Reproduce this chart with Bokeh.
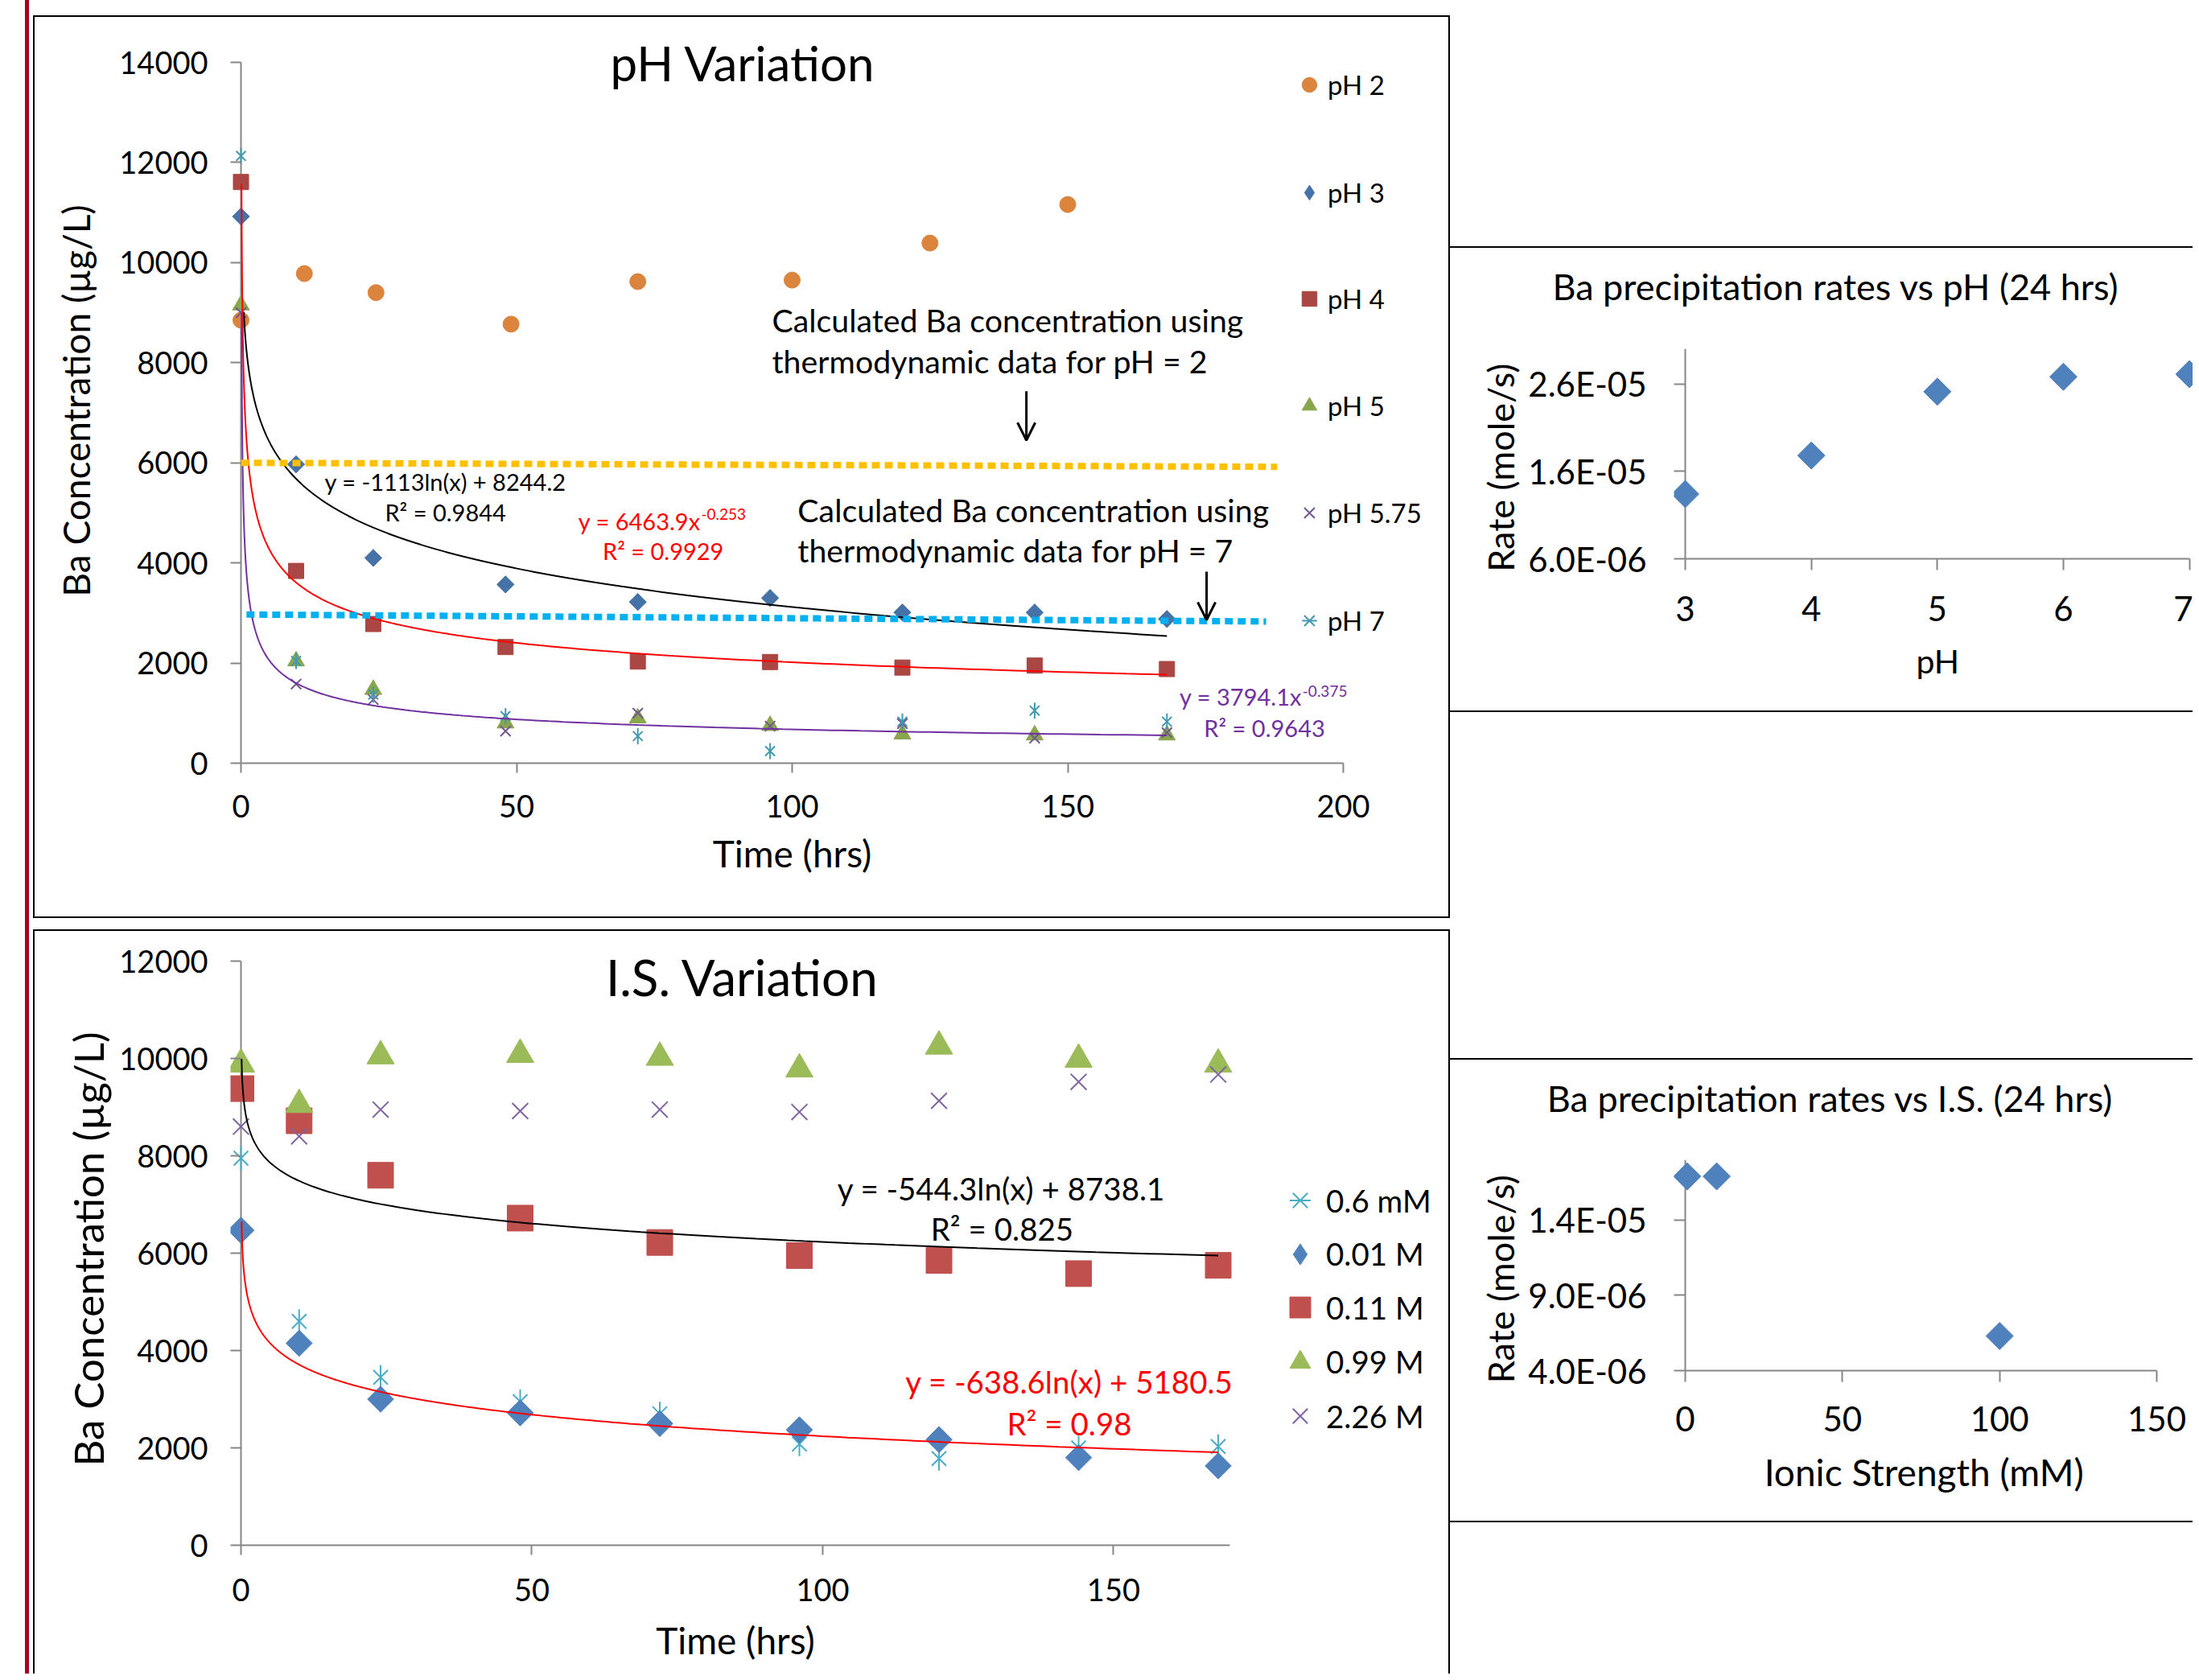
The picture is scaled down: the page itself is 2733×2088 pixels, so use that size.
import numpy as np
from bokeh.plotting import figure
from bokeh.layouts import row, column
from bokeh.models import (Spacer, Div, Label, Legend, LegendItem, Arrow, OpenHead, FixedTicker,
                          CustomJSTickFormatter, Range1d)
from bokeh.embed import file_html
from bokeh.resources import INLINE

FONT = "Lato"
AXIS_GRAY = "#868686"
NB = "\u00a0"

# ---------------- data: pH variation ----------------
time_ph2 = [0, 11.5, 24.5, 49, 72, 100, 125, 150]
ba_ph2 = [8850, 9780, 9400, 8770, 9620, 9650, 10390, 11160]
time_ph = [0, 10, 24, 48, 72, 96, 120, 144, 168]
ba_ph3 = [10920, 5970, 4100, 3570, 3220, 3300, 3010, 3010, 2880]
ba_ph4 = [11610, 3840, 2780, 2320, 2030, 2020, 1910, 1950, 1880]
ba_ph5 = [9150, 2040, 1470, 800, 900, 750, 580, 560, 560]
ba_ph575 = [9000, 1580, 1270, 640, 1000, 740, 790, 500, 610]
ba_ph7 = [12130, 2040, 1370, 940, 540, 240, 830, 1050, 830]

thermo_ph2_x = [0, 188]
thermo_ph2_y = [6000, 5920]
thermo_ph7_x = [1, 186]
thermo_ph7_y = [2970, 2830]

# ---------------- data: I.S. variation ----------------
time_is = [0, 10, 24, 48, 72, 96, 120, 144, 168]
ba_06mM = [7950, 4600, 3450, 2950, 2700, 2080, 1780, 2000, 2030]
ba_001M = [6470, 4150, 3000, 2720, 2500, 2370, 2170, 1800, 1630]
ba_011M = [9380, 8720, 7600, 6720, 6220, 5950, 5850, 5580, 5750]
ba_099M = [9880, 9050, 10050, 10080, 10020, 9780, 10250, 9980, 9880]
ba_226M = [8600, 8400, 8950, 8920, 8950, 8900, 9130, 9520, 9670]

# ---------------- data: precipitation rates ----------------
rate_ph_x = [3, 4, 5, 6, 7]
rate_ph = [1.34e-5, 1.78e-5, 2.51e-5, 2.68e-5, 2.71e-5]
rate_is_x = [0.6, 10, 100]
rate_is = [1.69e-5, 1.69e-5, 6.3e-6]

# ---------------- trendline coefficients (as printed on chart) ----------------
log_fit_ph3 = (-1113.0, 8244.2)
pow_fit_ph4 = (6463.9, -0.253)
pow_fit_ph575 = (3794.1, -0.375)
log_fit_011M = (-544.3, 8738.1)
log_fit_001M = (-638.6, 5180.5)

# ---------------- ticks / axis extents ----------------
ticks_ph_x = [0, 50, 100, 150, 200]
ticks_ph_y = [0, 2000, 4000, 6000, 8000, 10000, 12000, 14000]
ticks_is_x = [0, 50, 100, 150]
ticks_is_y = [0, 2000, 4000, 6000, 8000, 10000, 12000]
is_x_max = 170
ticks_rph_x = [3, 4, 5, 6, 7]
ticks_rph_y = [6e-6, 1.6e-5, 2.6e-5]
rph_y_max = 3e-5
ticks_ris_x = [0, 50, 100, 150]
ticks_ris_y = [4e-6, 9e-6, 1.4e-5]
ris_y_max = 1.8e-5

# colours
C07 = dict(orange="#DB843D", blue="#4572A7", red="#AA4643", green="#89A54E",
           purple="#71588F", teal="#4198AF")
C10 = dict(blue="#4F81BD", red="#C0504D", green="#9BBB59", purple="#8064A2", teal="#4BACC6")


def make_fig(w, h, xr, yr, ml, mr, mt, mb, axes=True):
    kw = {}
    if not axes:
        kw = dict(x_axis_location=None, y_axis_location=None)
    p = figure(width=w, height=h,
               x_range=xr if isinstance(xr, Range1d) else Range1d(*xr),
               y_range=yr if isinstance(yr, Range1d) else Range1d(*yr),
               output_backend="svg", toolbar_location=None, tools="",
               min_border_left=ml, min_border_right=mr, min_border_top=mt,
               min_border_bottom=mb, **kw)
    p.outline_line_color = None
    p.xgrid.visible = False
    p.ygrid.visible = False
    p.background_fill_color = "white"
    p.border_fill_color = "white"
    return p


def style_axis(ax, ticks, tick_px, standoff, label="", label_px=40, label_standoff=0,
               tick_out=0, tick_in=0, line=True):
    ax.ticker = FixedTicker(ticks=ticks)
    ax.axis_line_color = AXIS_GRAY if line else None
    ax.axis_line_width = 2
    ax.major_tick_line_color = AXIS_GRAY
    ax.major_tick_line_width = 2
    ax.major_tick_out = tick_out
    ax.major_tick_in = tick_in
    ax.minor_tick_line_color = None
    ax.major_label_text_font = FONT
    ax.major_label_text_font_size = f"{tick_px}px"
    ax.major_label_text_color = "black"
    ax.major_label_standoff = standoff
    if label:
        ax.axis_label = label
        ax.axis_label_text_font = FONT
        ax.axis_label_text_font_size = f"{label_px}px"
        ax.axis_label_text_font_style = "normal"
        ax.axis_label_text_color = "black"
        ax.axis_label_standoff = label_standoff


def lab(p, x, y, text, px, ppu=1.0, color="black", align="left"):
    # y is the wanted baseline; the renderer puts the baseline a little lower
    fix = 0.33 * px + 3
    p.add_layout(Label(x=x, y=y + fix / ppu, text=text, text_font=FONT,
                       text_font_size=f"{px}px", text_color=color, text_align=align,
                       text_baseline="alphabetic"))


def legend_entry(p, label, renderers, lx, ly, gw, gh, standoff, px):
    lg = Legend(items=[LegendItem(label=label, renderers=renderers)], location=(lx, ly),
                orientation="vertical", glyph_width=gw, glyph_height=gh, label_height=gh,
                label_standoff=standoff, padding=0, margin=0, spacing=0,
                border_line_color=None, background_fill_alpha=0,
                label_text_font=FONT, label_text_font_size=f"{px}px",
                label_text_color="black")
    p.add_layout(lg, "center")


def diamonds(p, x, y, side, color):
    # legend-only underlay with Bokeh's diamond, Excel-like rotated square drawn on top
    leg = p.scatter(x, y, marker="diamond", size=side * 1.38, color=color)
    p.scatter(x, y, marker="square", angle=np.pi / 4, size=side, color=color)
    return leg


def asterisks(p, x, y, size, color):
    a = p.scatter(x, y, marker="x", size=size * 0.85, line_color=color, line_width=2)
    b = p.scatter(x, y, marker="dash", angle=np.pi / 2, size=size, line_color=color,
                  line_width=2)
    return [a, b]


def y_rule(p, x0, y0, y1):
    # the vertical axis line, drawn at the x-axis origin
    p.segment(x0=[x0], y0=[y0], x1=[x0], y1=[y1], line_color=AXIS_GRAY, line_width=2)


def title_div(text, w, h, cx, pad_top, px):
    html = (f'<div style="width:{2 * cx}px;text-align:center;padding-top:{pad_top}px;'
            f'font-family:{FONT};font-size:{px}px;line-height:{px}px;white-space:nowrap;'
            f'color:black;margin:0">{text}</div>')
    return Div(text=html, width=w, height=h, margin=0,
               styles={"overflow": "visible", "margin": "0", "padding": "0"})


# =============== Panel 1: pH Variation ===============
D1 = 13
PX1 = 6.85
PY1 = 871 / 14000
x1_start = -D1 / PX1
p1 = make_fig(1757, 1012, (x1_start, x1_start + (1757 - 256 + D1) / PX1),
              (0, ticks_ph_y[-1] + 30 / PY1), 256 - D1, 0, 26, 85)
style_axis(p1.xaxis[0], ticks_ph_x, 38, 27, tick_out=12)
style_axis(p1.yaxis[0], ticks_ph_y, 38, 28, "Ba Concentration (µg/L)", 46, 23,
           tick_in=D1, line=False)
p1.xaxis[0].bounds = (ticks_ph_x[0], ticks_ph_x[-1])
p1.yaxis[0].bounds = (ticks_ph_y[0], ticks_ph_y[-1])
y_rule(p1, ticks_ph_x[0], ticks_ph_y[0], ticks_ph_y[-1])

r_ph2 = p1.scatter(time_ph2, ba_ph2, marker="circle", size=20, color=C07["orange"])
r_ph3 = diamonds(p1, time_ph, ba_ph3, 15, C07["blue"])
r_ph4 = p1.scatter(time_ph, ba_ph4, marker="square", size=19, color=C07["red"])
r_ph5 = p1.scatter(time_ph, ba_ph5, marker="triangle", size=21, color=C07["green"])
r_ph575 = p1.scatter(time_ph, ba_ph575, marker="x", size=18, line_color=C07["purple"],
                     line_width=2)
r_ph7 = asterisks(p1, time_ph, ba_ph7, 20, C07["teal"])

xl = np.geomspace(0.5, 168, 400)
p1.line(xl, log_fit_ph3[0] * np.log(xl) + log_fit_ph3[1], line_color="black", line_width=2)
xp = np.geomspace(0.1, 168, 500)
p1.line(xp, pow_fit_ph4[0] * xp ** pow_fit_ph4[1], line_color="#FF0000", line_width=2)
p1.line(xp, pow_fit_ph575[0] * xp ** pow_fit_ph575[1], line_color="#7030A0", line_width=2)

p1.line(thermo_ph2_x, thermo_ph2_y, line_color="#FFC000", line_width=8, line_dash="10 6")
p1.line(thermo_ph7_x, thermo_ph7_y, line_color="#00B0F0", line_width=8, line_dash="10 6")

p1.add_layout(Arrow(end=OpenHead(size=22, line_width=3, line_color="black"),
                    x_start=142.5, y_start=7430, x_end=142.5, y_end=6450,
                    line_width=3, line_color="black"))
p1.add_layout(Arrow(end=OpenHead(size=22, line_width=3, line_color="black"),
                    x_start=175.2, y_start=3826, x_end=175.2, y_end=2861,
                    line_width=3, line_color="black"))

lab(p1, 91.1, 13630, "pH Variation", 60, PY1, align="center")
lab(p1, 37.1, 5417, "y = -1113ln(x) + 8244.2", 29, PY1, align="center")
lab(p1, 37.1, 4806, "R² = 0.9844", 29, PY1, align="center")
lab(p1, 83.4, 4636, "y = 6463.9x", 29, PY1, color="#FF0000", align="right")
lab(p1, 83.5, 4822, "-0.253", 19, PY1, color="#FF0000", align="left")
lab(p1, 76.6, 4034, "R² = 0.9929", 29, PY1, color="#FF0000", align="center")
lab(p1, 192.5, 1125, "y = 3794.1x", 29, PY1, color="#7030A0", align="right")
lab(p1, 192.6, 1286, "-0.375", 19, PY1, color="#7030A0", align="left")
lab(p1, 185.7, 498, "R² = 0.9643", 29, PY1, color="#7030A0", align="center")
lab(p1, 96.35, 8599, "Calculated Ba concentration using", 39.3, PY1)
lab(p1, 96.35, 7780, "thermodynamic data for pH = 2", 39.3, PY1)
lab(p1, 101.0, 4806, "Calculated Ba concentration using", 39.3, PY1)
lab(p1, 101.0, 4002, "thermodynamic data for pH = 7", 39.3, PY1)

leg1 = [("pH 2", [r_ph2], 106.4), ("pH 3", [r_ph3], 240), ("pH 4", [r_ph4], 372),
        ("pH 5", [r_ph5], 505), ("pH 5.75", [r_ph575], 638), ("pH 7", r_ph7, 772)]
for name, rs, yc in leg1:
    legend_entry(p1, name, rs, 1318, 925 - yc, 46, 48, 0, 33)

# x-axis title strip, sharing the chart's x scale
s1 = make_fig(1757, 106, p1.x_range, (0, 106), 256 - D1, 0, 0, 0, axes=False)
lab(s1, (ticks_ph_x[0] + ticks_ph_x[-1]) / 2, 60.7, "Time (hrs)", 46, 1.0, align="center")

# =============== Panel 2: I.S. Variation ===============
D2 = 13
PX2 = 7.2294
PY2 = 726 / 12000
x2_start = -D2 / PX2
p2 = make_fig(1757, 850, (x2_start, x2_start + (1757 - 256 + D2) / PX2),
              (0, ticks_is_y[-1] + 10 / PY2), 256 - D2, 0, 27, 87)
style_axis(p2.xaxis[0], ticks_is_x, 38, 29, tick_out=12)
style_axis(p2.yaxis[0], ticks_is_y, 38, 28, "Ba Concentration (µg/L)", 51, 5,
           tick_in=D2, line=False)
p2.xaxis[0].bounds = (ticks_is_x[0], is_x_max)
p2.yaxis[0].bounds = (ticks_is_y[0], ticks_is_y[-1])
y_rule(p2, ticks_is_x[0], ticks_is_y[0], ticks_is_y[-1])

r_06 = asterisks(p2, time_is, ba_06mM, 30, C10["teal"])
r_001 = diamonds(p2, time_is, ba_001M, 23, C10["blue"])
r_011 = p2.scatter(time_is, ba_011M, marker="square", size=32, color=C10["red"])
r_099 = p2.scatter(time_is, ba_099M, marker="triangle", size=34, color=C10["green"])
r_226 = p2.scatter(time_is, ba_226M, marker="x", size=28, line_color=C10["purple"],
                   line_width=2)

xb = np.geomspace(0.1, 168, 500)
p2.line(xb, log_fit_011M[0] * np.log(xb) + log_fit_011M[1], line_color="black", line_width=2)
p2.line(xb, log_fit_001M[0] * np.log(xb) + log_fit_001M[1], line_color="#FF0000",
        line_width=2)

lab(p2, 86.24, 11294, "I.S. Variation", 62, PY2, align="center")
lab(p2, 130.72, 7066, "y = -544.3ln(x) + 8738.1", 38.5, PY2, align="center")
lab(p2, 130.85, 6248, "R² = 0.825", 38.5, PY2, align="center")
lab(p2, 142.41, 3099, "y = -638.6ln(x) + 5180.5", 38.5, PY2, color="#FF0000", align="center")
lab(p2, 142.41, 2248, "R² = 0.98", 38.5, PY2, color="#FF0000", align="center")

leg2 = [("0.6 mM", r_06, 1492.5), ("0.01 M", [r_001], 1559), ("0.11 M", [r_011], 1625.5),
        ("0.99 M", [r_099], 1693.2), ("2.26 M", [r_226], 1760.9)]
for name, rs, yc in leg2:
    legend_entry(p2, name, rs, 1297, 1888.5 - yc, 65, 65, 0, 38.5)

s2 = make_fig(1757, 73, p2.x_range, (0, 73), 256 - D2, 0, 0, 0, axes=False)
lab(s2, (ticks_is_x[0] + is_x_max) / 2, 24, "Time (hrs)", 46, 1.0, align="center")

sci_fmt = CustomJSTickFormatter(code="""
const s = tick.toExponential(1).toUpperCase();
return s.replace(/E([+-])(\\d)$/, (m, sg, d) => "E" + sg + "0" + d);
""")

# =============== Panel 3: rates vs pH ===============
PX3 = 156.65
x3_start = ticks_rph_x[0] - 14 / PX3
p3 = make_fig(923, 483, (x3_start, x3_start + 645 / PX3), (ticks_rph_y[0], rph_y_max),
              278, 0, 33, 189)
style_axis(p3.xaxis[0], ticks_rph_x, 42, 32, NB + "pH", 41, 22, tick_out=14)
style_axis(p3.yaxis[0], ticks_rph_y, 42, 34, "Rate (mole/s)" + NB * 3, 45, 4,
           tick_in=14, line=False)
p3.yaxis[0].formatter = sci_fmt
p3.xaxis[0].bounds = (ticks_rph_x[0], ticks_rph_x[-1])
y_rule(p3, ticks_rph_x[0], ticks_rph_y[0], rph_y_max)
p3.scatter(rate_ph_x, rate_ph, marker="square", angle=np.pi / 4, size=24, color=C10["blue"])
t3 = title_div("Ba precipitation rates vs pH (24 hrs)", 923, 92, 479, 26, 45)

# =============== Panel 4: rates vs I.S. ===============
PX4 = 3.9067
x4_start = ticks_ris_x[0] - 14 / PX4
p4 = make_fig(923, 480, (x4_start, x4_start + 645 / PX4), (ticks_ris_y[0], ris_y_max),
              278, 0, 31, 187)
style_axis(p4.xaxis[0], ticks_ris_x, 42, 30, "Ionic Strength (mM)" + NB * 2, 46, 20,
           tick_out=14)
style_axis(p4.yaxis[0], ticks_ris_y, 42, 34, "Rate (mole/s)" + NB * 3, 45, 4,
           tick_in=14, line=False)
p4.yaxis[0].formatter = sci_fmt
p4.xaxis[0].bounds = (ticks_ris_x[0], ticks_ris_x[-1])
y_rule(p4, ticks_ris_x[0], ticks_ris_y[0], ris_y_max)
p4.scatter(rate_is_x, rate_is, marker="square", angle=np.pi / 4, size=24, color=C10["blue"])
t4 = title_div("Ba precipitation rates vs I.S. (24 hrs)", 923, 93, 472, 26, 45)


# =============== page layout (boxes and rules) ===============
def bar(w, h, color="black"):
    return Spacer(width=w, height=h, styles={"background-color": color})


def gap(w, h):
    return Spacer(width=w, height=h)


H = 2080
red_strip = row(gap(31, H), bar(5, H, "#A50021"), gap(5, H))
top_box = row(bar(2, 1122), column(bar(1757, 2), p1, s1, bar(1757, 2)), bar(2, 1122))
bot_box = row(bar(2, 925), column(bar(1757, 2), p2, s2), bar(2, 925))
left_col = column(gap(1761, 19), top_box, gap(1761, 14), bot_box)
right_col = column(gap(923, 306), bar(923, 2), t3, p3, bar(923, 2), gap(923, 430),
                   bar(923, 2), t4, p4, bar(923, 2), gap(923, 188))
root = row(red_strip, left_col, right_col)

open("out.html", "w").write(file_html(root, INLINE, title="Ba concentration charts"))
